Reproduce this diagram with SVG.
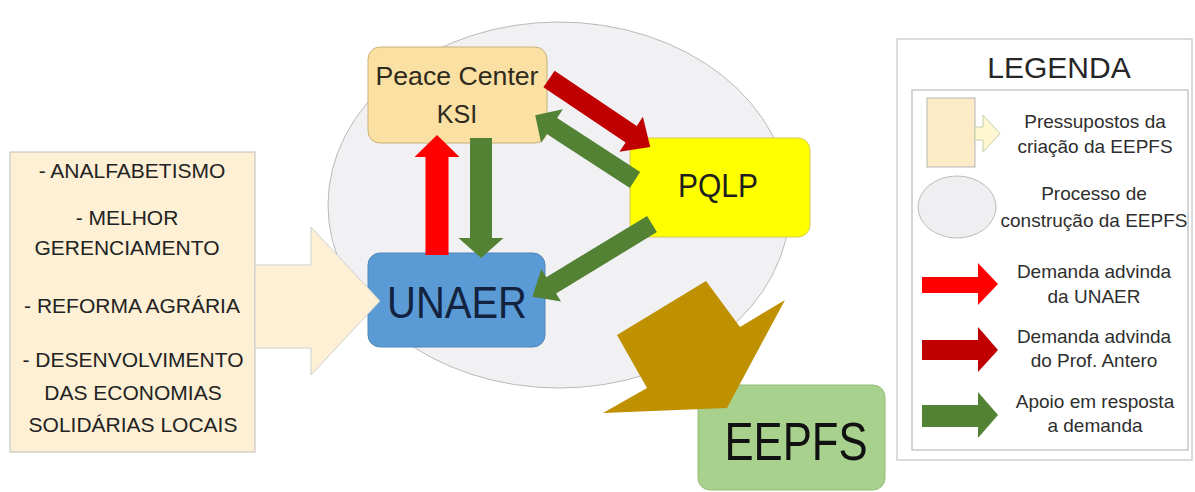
<svg xmlns="http://www.w3.org/2000/svg" width="1195" height="492" viewBox="0 0 1195 492">
<style>
text{font-family:"Liberation Sans",Arial,sans-serif;text-anchor:middle}
.fac{font-size:21px;fill:#232323}
.leg{font-size:19px;fill:#2E2E2E}
.red{fill:#FF0000}
.dred{fill:#C00000}
.grn{fill:#548235}
</style>
<rect width="1195" height="492" fill="#FFFFFF"/>
<g id="node-process">
<ellipse cx="559" cy="205" rx="231" ry="183" fill="#F1F1F3" stroke="#B9B9B9" stroke-width="1"/>
</g>
<g id="node-factors">
<rect x="10" y="152" width="245" height="300" fill="#FDF0D5" stroke="#BDBDBD" stroke-width="1"/>
<text class="fac" x="132" y="178">- ANALFABETISMO</text>
<text class="fac" x="127" y="225">- MELHOR</text>
<text class="fac" x="127" y="255">GERENCIAMENTO</text>
<text class="fac" x="132" y="313">- REFORMA AGRÁRIA</text>
<text class="fac" x="133" y="367">- DESENVOLVIMENTO</text>
<text class="fac" x="133" y="400">DAS ECONOMIAS</text>
<text class="fac" x="133" y="432">SOLIDÁRIAS LOCAIS</text>
</g>
<g id="node-peace">
<rect x="368" y="47" width="179" height="96" rx="12" fill="#FAE0A2" stroke="#C8B07A" stroke-width="1"/>
<text x="457" y="85" font-size="25" fill="#2E2A1E" textLength="163" lengthAdjust="spacingAndGlyphs">Peace Center</text>
<text x="457" y="123" font-size="25" fill="#2E2A1E">KSI</text>
</g>
<g id="node-pqlp">
<rect x="630" y="138" width="180" height="99" rx="12" fill="#FFFF00" stroke="#D2C85A" stroke-width="1"/>
<text x="718" y="197" font-size="33" fill="#1E1E1E" textLength="80" lengthAdjust="spacingAndGlyphs">PQLP</text>
</g>
<g id="node-unaer">
<rect x="368" y="253" width="177" height="94" rx="12" fill="#5B9BD5" stroke="#4F86B8" stroke-width="1"/>
<text x="457" y="318" font-size="44" fill="#13223F" textLength="140" lengthAdjust="spacingAndGlyphs">UNAER</text>
</g>
<g id="node-eepfs">
<rect x="698" y="385" width="187" height="105" rx="12" fill="#A9D18E" stroke="#93BC78" stroke-width="1"/>
<text x="796" y="460" font-size="54" fill="#111111" textLength="143" lengthAdjust="spacingAndGlyphs">EEPFS</text>
</g>
<g id="connectors">
<polygon points="255,265 311,265 311,227 380,301 311,375 311,348 255,348" fill="#FDF0D5" stroke="#CFCFCF" stroke-width="1"/>
<polygon class="red" transform="translate(437,255) rotate(-90)" points="0,-11.5 98,-11.5 98,-22.5 120,0 98,22.5 98,11.5 0,11.5"/>
<polygon class="grn" transform="translate(481,138) rotate(90)" points="0,-11 100,-11 100,-22.5 120,0 100,22.5 100,11 0,11"/>
<polygon class="dred" transform="translate(549,79) rotate(33.9)" points="0,-10 99,-10 99,-21 122,0 99,21 99,10 0,10"/>
<polygon class="grn" transform="translate(635,180) rotate(213)" points="0,-9.5 99,-9.5 99,-20 119,0 99,20 99,9.5 0,9.5"/>
<polygon class="grn" transform="translate(652,224) rotate(148.7)" points="0,-9.5 118,-9.5 118,-19 140,0 118,19 118,9.5 0,9.5"/>
<polygon points="706,281 740,327 785,300 727,408 603,413 647,388 617,335" fill="#BF9000"/>
</g>
<g id="legend">
<rect x="897" y="39" width="295" height="421" fill="#FFFFFF" stroke="#CFCFCF" stroke-width="1.5"/>
<text x="1059" y="78" font-size="30" fill="#262626">LEGENDA</text>
<rect x="912" y="90" width="276" height="360" fill="#FFFFFF" stroke="#ABABAB" stroke-width="1"/>
<rect x="927" y="98" width="48" height="69" fill="#FCEBC6" stroke="#B5B5B5" stroke-width="1"/>
<polygon points="975,127 983,127 983,115 1000,133.5 983,152 983,140 975,140" fill="#FFF7D2" stroke="#C6CFA8" stroke-width="1"/>
<text class="leg" x="1095" y="128">Pressupostos da</text>
<text class="leg" x="1095" y="153">criação da EEPFS</text>
<ellipse cx="957" cy="207" rx="39" ry="31" fill="#EFEFF1" stroke="#BBBBBB" stroke-width="1"/>
<text class="leg" x="1094" y="200">Processo de</text>
<text class="leg" x="1094" y="227">construção da EEPFS</text>
<polygon class="red" points="922,277 978,277 978,263 998,284 978,305 978,293 922,293"/>
<text class="leg" x="1094" y="278">Demanda advinda</text>
<text class="leg" x="1094" y="303">da UNAER</text>
<polygon class="dred" points="922,340 978,340 978,327 998,350 978,372 978,360 922,360"/>
<text class="leg" x="1094" y="343">Demanda advinda</text>
<text class="leg" x="1094" y="367">do Prof. Antero</text>
<polygon class="grn" points="922,405 978,405 978,392 998,415 978,438 978,427 922,427"/>
<text class="leg" x="1095" y="408">Apoio em resposta</text>
<text class="leg" x="1095" y="432">a demanda</text>
</g>
</svg>
